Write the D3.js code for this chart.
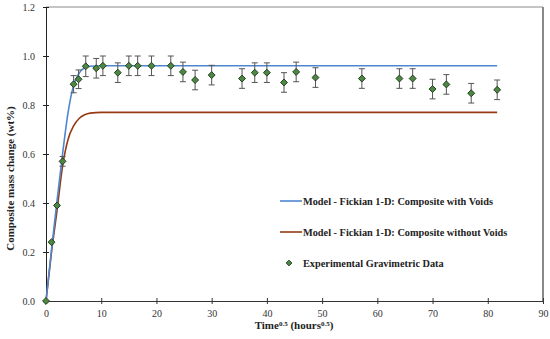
<!DOCTYPE html>
<html>
<head>
<meta charset="utf-8">
<script src="https://cdn.jsdelivr.net/npm/d3@7"></script>
<style>
  body { margin: 0; background: #fff; }
  svg { display: block; }
  text { font-family: 'Liberation Serif', 'DejaVu Serif', serif; fill: #222; }
</style>
</head>
<body>
<div id="chart"></div>
<script>
// experimental points (time^0.5, wt%, error)
const expTime = [0, 1, 2, 3, 5, 5.9, 7.2, 9.1, 10.3, 13, 15, 16.6, 19.1, 22.6, 24.8, 27, 30, 35.5, 37.8, 40, 43.1, 45.3, 48.8, 57.2, 64, 66.4, 70, 72.5, 77, 81.7];
const expValue = [0, 0.24, 0.39, 0.57, 0.885, 0.905, 0.958, 0.95, 0.96, 0.932, 0.96, 0.96, 0.96, 0.96, 0.935, 0.902, 0.922, 0.908, 0.932, 0.932, 0.892, 0.935, 0.912, 0.908, 0.908, 0.908, 0.865, 0.884, 0.848, 0.862];
const expError = [0, 0, 0, 0.02, 0.035, 0.038, 0.042, 0.04, 0.04, 0.04, 0.04, 0.04, 0.04, 0.04, 0.04, 0.04, 0.04, 0.04, 0.04, 0.04, 0.04, 0.04, 0.04, 0.04, 0.04, 0.04, 0.04, 0.04, 0.04, 0.04];

// model curves
const withVoidsTime = [0, 1, 2, 3, 4, 5, 6, 7, 8, 10, 81.7];
const withVoidsValue = [0, 0.21, 0.41, 0.6, 0.77, 0.88, 0.93, 0.952, 0.958, 0.96, 0.96];
const withoutVoidsTime = [0, 1, 2, 3, 4, 5, 6, 7, 8, 10, 81.7];
const withoutVoidsValue = [0, 0.2, 0.37, 0.55, 0.66, 0.715, 0.745, 0.76, 0.767, 0.77, 0.77];

const xTicks = [0, 10, 20, 30, 40, 50, 60, 70, 80, 90];
const yTicks = [0, 0.2, 0.4, 0.6, 0.8, 1.0, 1.2];

const legendLabels = [
    'Model - Fickian 1-D: Composite with Voids',
    'Model - Fickian 1-D: Composite without Voids',
    'Experimental Gravimetric Data'
];

const blueColor = '#4f86d0';
const brownColor = '#963a14';
const markerFill = '#4e8644';
const markerStroke = '#1d3a1a';

const W = 550, H = 339;
const margin = { top: 7, right: 7, bottom: 38, left: 46 };
const width = W - margin.left - margin.right;
const height = H - margin.top - margin.bottom;

const x = d3.scaleLinear().domain([0, 90]).range([0, width]);
const y = d3.scaleLinear().domain([0, 1.2]).range([height, 0]);

const svg = d3.select('#chart').append('svg')
    .attr('width', W)
    .attr('height', H)
    .append('g')
    .attr('transform', `translate(${margin.left},${margin.top})`);

// frame top / right
svg.append('line')
    .attr('x1', 0).attr('x2', width).attr('y1', 0).attr('y2', 0)
    .style('stroke', '#8a8a8a').style('stroke-width', '1px');
svg.append('line')
    .attr('x1', width).attr('x2', width).attr('y1', 0).attr('y2', height)
    .style('stroke', '#8a8a8a').style('stroke-width', '2px');

// axes
const xAxis = svg.append('g')
    .attr('transform', `translate(0,${height})`)
    .call(d3.axisBottom(x).tickValues(xTicks).tickFormat(d3.format('d')).tickSize(3).tickPadding(6));
xAxis.select('.domain').style('stroke', '#333');
xAxis.selectAll('.tick line').attr('y1', -3).style('stroke', '#333');
xAxis.selectAll('text').style('font-size', '10px').style('fill', '#333');

const yAxis = svg.append('g')
    .call(d3.axisLeft(y).tickValues(yTicks).tickFormat(d3.format('.1f')).tickSize(3).tickPadding(8));
yAxis.select('.domain').style('stroke', '#222');
yAxis.selectAll('.tick line').attr('x1', 3).style('stroke', '#222');
yAxis.selectAll('text').style('font-size', '10px').style('fill', '#333');

// axis titles
const xTitle = svg.append('text')
    .attr('x', 248)
    .attr('y', height + 28)
    .attr('text-anchor', 'middle')
    .style('font-size', '11px')
    .style('font-weight', 'bold');
xTitle.append('tspan').text('Time');
xTitle.append('tspan').attr('dy', -3).style('font-size', '7px').text('0.5');
xTitle.append('tspan').attr('dy', 3).text(' (hours');
xTitle.append('tspan').attr('dy', -3).style('font-size', '7px').text('0.5');
xTitle.append('tspan').attr('dy', 3).text(')');

svg.append('text')
    .attr('transform', 'rotate(-90)')
    .attr('x', -(y(0.5)))
    .attr('y', -margin.left + 14)
    .attr('text-anchor', 'middle')
    .style('font-size', '11px')
    .style('font-weight', 'bold')
    .text('Composite mass change (wt%)');

// model lines
const line = d3.line()
    .x(d => x(d[0]))
    .y(d => y(d[1]))
    .curve(d3.curveMonotoneX);

svg.append('path')
    .datum(d3.zip(withoutVoidsTime, withoutVoidsValue))
    .attr('d', line)
    .attr('fill', 'none')
    .attr('stroke', brownColor)
    .attr('stroke-width', 1.6);

svg.append('path')
    .datum(d3.zip(withVoidsTime, withVoidsValue))
    .attr('d', line)
    .attr('fill', 'none')
    .attr('stroke', blueColor)
    .attr('stroke-width', 1.6);

// experimental data with error bars
const expData = expTime.map((t, i) => ({ t: t, v: expValue[i], e: expError[i] }));
const capW = 3;

const errGroup = svg.append('g').attr('class', 'errors');
expData.filter(d => d.e > 0).forEach(d => {
    const cx = x(d.t);
    const top = y(d.v + d.e);
    const bot = y(d.v - d.e);
    errGroup.append('line').attr('x1', cx).attr('x2', cx).attr('y1', top).attr('y2', bot)
        .style('stroke', '#555').style('stroke-width', '1px');
    errGroup.append('line').attr('x1', cx - capW).attr('x2', cx + capW).attr('y1', top).attr('y2', top)
        .style('stroke', '#555').style('stroke-width', '1px');
    errGroup.append('line').attr('x1', cx - capW).attr('x2', cx + capW).attr('y1', bot).attr('y2', bot)
        .style('stroke', '#555').style('stroke-width', '1px');
});

const diamond = d3.symbol().type(d3.symbolSquare).size(24);
svg.selectAll('.marker')
    .data(expData)
    .enter()
    .append('path')
    .attr('class', 'marker')
    .attr('d', diamond)
    .attr('transform', d => `translate(${x(d.t)},${y(d.v)}) rotate(45)`)
    .attr('fill', markerFill)
    .attr('stroke', markerStroke)
    .attr('stroke-width', 0.9);

// legend
const legend = svg.append('g').attr('transform', `translate(${280 - margin.left},${201 - margin.top})`);
const rowGap = 31;
[blueColor, brownColor].forEach((c, i) => {
    legend.append('line')
        .attr('x1', 0).attr('x2', 22)
        .attr('y1', i * rowGap).attr('y2', i * rowGap)
        .attr('stroke', c).attr('stroke-width', 1.6);
});
legend.append('path')
    .attr('d', d3.symbol().type(d3.symbolSquare).size(16))
    .attr('transform', `translate(9,${2 * rowGap}) rotate(45)`)
    .attr('fill', markerFill)
    .attr('stroke', markerStroke)
    .attr('stroke-width', 0.9);
legend.selectAll('.legend-label')
    .data(legendLabels)
    .enter()
    .append('text')
    .attr('class', 'legend-label')
    .attr('x', 23)
    .attr('y', (d, i) => i * rowGap + 3.5)
    .style('font-size', '10.3px')
    .style('font-weight', 'bold')
    .text(d => d);
</script>
</body>
</html>
